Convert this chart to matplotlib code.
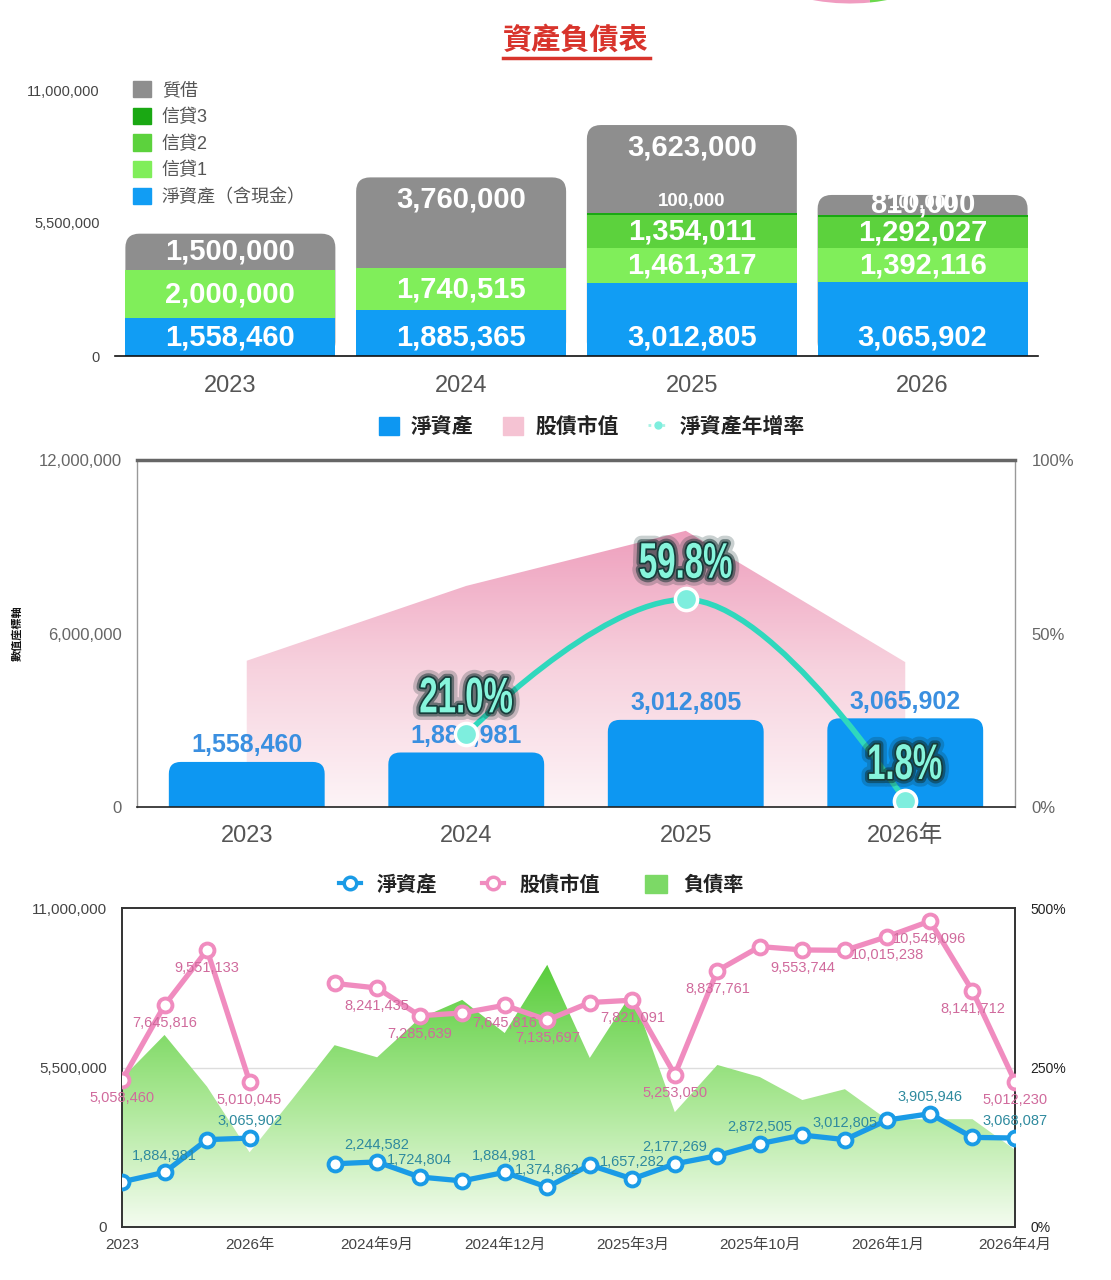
import numpy as np
import matplotlib
matplotlib.use('Agg')
import matplotlib.pyplot as plt
from matplotlib.patches import FancyBboxPatch, Patch, Wedge, PathPatch
from matplotlib.lines import Line2D
from matplotlib.path import Path
from matplotlib.colors import LinearSegmentedColormap
from matplotlib.textpath import TextPath
from matplotlib.font_manager import FontProperties
from matplotlib.transforms import Affine2D
import matplotlib.patheffects as pe

plt.rcParams['font.family'] = ['Liberation Sans', 'Noto Sans CJK TC', 'DejaVu Sans']

# ---------------- data ----------------
title = '資產負債表'
years = ['2023', '2024', '2025', '2026']
net_assets = [1558460, 1885365, 3012805, 3065902]
credit1 = [2000000, 1740515, 1461317, 1392116]
credit2 = [0, 0, 1354011, 1292027]
credit3 = [0, 0, 100000, 100000]
pledge = [1500000, 3760000, 3623000, 810000]
top_yticks = [0, 5500000, 11000000]
top_legend = ['質借', '信貸3', '信貸2', '信貸1', '淨資產（含現金）']

mid_years = ['2023', '2024', '2025', '2026年']
mid_net = [1558460, 1884981, 3012805, 3065902]
mid_market = [5058460, 7645816, 9551133, 5010045]
mid_growth = [np.nan, 21.0, 59.8, 1.8]
mid_yticks = [0, 6000000, 12000000]
mid_rticks = [0, 50, 100]
mid_legend = ['淨資產', '股債市值', '淨資產年增率']
mid_ylabel = '數值座標軸'

bot_xlabels = ['2023', '2026年', '2024年9月', '2024年12月', '2025年3月',
               '2025年10月', '2026年1月', '2026年4月']
bot_xtick_idx = [0, 3, 6, 9, 12, 15, 18, 21]
bot_net = [1558460, 1884981, 3012805, 3065902, np.nan, 2180000, 2244582,
           1724804, 1590000, 1884981, 1374862, 2140000, 1657282, 2177269,
           2460000, 2872505, 3170000, 3012805, 3690000, 3905946, 3090000,
           3068087]
bot_market = [5058460, 7645816, 9551133, 5010045, np.nan, 8400000, 8241435,
              7285639, 7380000, 7645816, 7135697, 7740000, 7821091, 5253050,
              8837761, 9670000, 9553744, 9540000, 10015238, 10549096,
              8141712, 5012230]
bot_debt = [233, 301, 220, 117, 200, 285, 266, 327, 356, 304, 411, 265, 368,
            180, 254, 235, 199, 216, 168, 169, 169, 121]
bot_net_labeled = [1, 3, 6, 7, 9, 10, 12, 13, 15, 17, 19, 21]
bot_market_labeled = [0, 1, 2, 3, 6, 7, 9, 10, 12, 13, 14, 16, 18, 19, 20, 21]
bot_yticks = [0, 5500000, 11000000]
bot_rticks = [0, 250, 500]
bot_legend = ['淨資產', '股債市值', '負債率']

# ---------------- style ----------------
C_BLUE = '#119df4'
C_G1 = '#80ee5a'
C_G2 = '#5cd23d'
C_G3 = '#1aa813'
C_GRAY = '#8e8e8e'
C_RED = '#d8342c'

W, H = 1111, 1280
fig = plt.figure(figsize=(W / 100, H / 100), dpi=100)


def fr(x0, y0, x1, y1):
    return [x0 / W, 1 - y1 / H, (x1 - x0) / W, (y1 - y0) / H]


def fmt(v):
    return f'{int(round(v)):,}'


# ---------------- title ----------------
fig.text(576 / W, 1 - 40 / H, title, ha='center', va='center', fontsize=21,
         fontweight='bold', color=C_RED)
fig.add_artist(Line2D([503 / W, 650 / W], [1 - 58 / H, 1 - 58 / H],
                      transform=fig.transFigure, color=C_RED, lw=2.5))
# partial ring at the very top
fig.add_artist(Wedge((8.5, 14.785), 2.02, 245, 275.7, width=0.25,
                     transform=fig.dpi_scale_trans, color='#f09cc0', lw=0))
fig.add_artist(Wedge((8.5, 14.785), 2.02, 275.7, 292, width=0.25,
                     transform=fig.dpi_scale_trans, color='#6ad84c', lw=0))

# ---------------- top stacked bars ----------------
ax1 = fig.add_axes(fr(115, 90, 1038, 356))
x = np.arange(len(years))
bw = 0.91
ax1.set_xlim(-0.5, 3.5)
ax1.set_ylim(0, 11e6)
px_y1 = 11e6 / 266
rx = 14 / (923 / 4)
ry = 14 * px_y1
totals = np.array(net_assets) + np.array(credit1) + np.array(credit2) + \
    np.array(credit3) + np.array(pledge)
for xi, t in zip(x, totals):
    ax1.add_patch(FancyBboxPatch((xi - bw / 2, 0), bw, t,
                                 boxstyle=f'round,pad=0,rounding_size={rx}',
                                 mutation_aspect=ry / rx, fc=C_GRAY, ec='none',
                                 zorder=1))
bottom = np.zeros(len(years))
for vals, col in [(net_assets, C_BLUE), (credit1, C_G1), (credit2, C_G2),
                  (credit3, C_G3)]:
    ax1.bar(x, vals, bw, bottom=bottom, color=col, zorder=2, linewidth=0)
    bottom = bottom + np.array(vals)

lab_kw = dict(ha='center', va='center', color='white', fontweight='bold',
              fontsize=21, zorder=5)
for i in range(len(years)):
    b0 = 0
    v = net_assets[i]
    ax1.text(x[i], min(v / 2, 18 * px_y1), fmt(v), **lab_kw)
    b0 += v
    for v in (credit1[i], credit2[i]):
        if v > 0:
            ax1.text(x[i], b0 + v / 2, fmt(v), **lab_kw)
        b0 += v
    v = credit3[i]
    if v > 0:
        ax1.text(x[i], b0 + v + 3 * px_y1, fmt(v), ha='center', va='bottom',
                 color='white', fontweight='bold', fontsize=13.5, zorder=6)
    b0 += v
    v = pledge[i]
    top = b0 + v
    ax1.text(x[i], max(b0 + v / 2, top - 22 * px_y1), fmt(v), **lab_kw)

for s in ['top', 'left', 'right']:
    ax1.spines[s].set_visible(False)
ax1.spines['bottom'].set_color('#111')
ax1.spines['bottom'].set_linewidth(1.2)
ax1.set_yticks(top_yticks, [fmt(v) for v in top_yticks])
ax1.set_xticks(x, years)
ax1.tick_params(axis='y', length=0, pad=11, labelsize=10.5, labelcolor='#444')
ax1.tick_params(axis='x', length=0, pad=14, labelsize=17, labelcolor='#555')
h_top = [Patch(color=c) for c in [C_GRAY, C_G3, C_G2, C_G1, C_BLUE]]
ax1.legend(h_top, top_legend, loc='upper left',
           bbox_to_anchor=(133 / W, 1 - 81 / H), bbox_transform=fig.transFigure,
           frameon=False, fontsize=13, labelcolor='#555', handlelength=1.0,
           handleheight=1.0, labelspacing=0.47, handletextpad=0.6,
           borderpad=0, borderaxespad=0)

# ---------------- middle chart ----------------
ax2 = fig.add_axes(fr(137, 460, 1015, 807))
ax2.set_xlim(-0.5, 3.5)
ax2.set_ylim(0, 12e6)
xm = np.arange(len(mid_years))
pink_cmap = LinearSegmentedColormap.from_list('pk', ['#fdf4f7', '#f7d2de', '#ee9fbd'])
poly = ax2.fill_between(xm, mid_market, 0, facecolor='none', edgecolor='none')
grad = np.linspace(0, 1, 256).reshape(-1, 1)
im = ax2.imshow(grad, extent=[-0.5, 3.5, 0, max(mid_market)], origin='lower',
                aspect='auto', cmap=pink_cmap, zorder=1)
im.set_clip_path(poly.get_paths()[0], transform=ax2.transData)
ax2.set_xlim(-0.5, 3.5)
ax2.set_ylim(0, 12e6)

bw2 = 0.71
px_y2 = 12e6 / 347
rx2 = 12 / 219.5
ry2 = 12 * px_y2
for xi, v in zip(xm, mid_net):
    ax2.add_patch(FancyBboxPatch((xi - bw2 / 2, -3 * ry2), bw2, v + 3 * ry2,
                                 boxstyle=f'round,pad=0,rounding_size={rx2}',
                                 mutation_aspect=ry2 / rx2, fc='#0d97f2',
                                 ec='none', zorder=2))
    ax2.annotate(fmt(v), (xi, v), xytext=(0, 12), textcoords='offset points',
                 ha='center', va='center', fontsize=18, fontweight='bold',
                 color='#3a8fe0', zorder=4)

ax2.spines['top'].set_color('#666')
ax2.spines['top'].set_linewidth(2.5)
for s in ['left', 'right']:
    ax2.spines[s].set_color('#999')
    ax2.spines[s].set_linewidth(1)
ax2.spines['bottom'].set_color('#222')
ax2.spines['bottom'].set_linewidth(1.2)
ax2.set_yticks(mid_yticks, [fmt(v) for v in mid_yticks])
ax2.set_xticks(xm, mid_years)
ax2.tick_params(axis='y', length=0, pad=11, labelsize=12, labelcolor='#666')
ax2.tick_params(axis='x', length=0, pad=13, labelsize=17, labelcolor='#555')

ax2b = ax2.twinx()
ax2b.set_ylim(0, 100)
ax2b.set_xlim(-0.5, 3.5)
ax2b.set_yticks(mid_rticks, [f'{v}%' for v in mid_rticks])
ax2b.tick_params(axis='y', length=0, pad=12, labelsize=12, labelcolor='#666')
for s in ax2b.spines.values():
    s.set_visible(False)

# spline (Highcharts-style bezier) through the growth points
gx = [xi for xi, g in zip(xm, mid_growth) if not np.isnan(g)]
gy = [g for g in mid_growth if not np.isnan(g)]
verts = [(gx[0], gy[0])]
codes = [Path.MOVETO]
sm, den = 1.5, 2.5
for k in range(1, len(gx)):
    x0, y0 = gx[k - 1], gy[k - 1]
    x1, y1 = gx[k], gy[k]
    c1 = (x0, y0) if k - 1 == 0 else ((sm * x0 + x1) / den, y0)
    c2 = (x1, y1) if k == len(gx) - 1 else ((sm * x1 + x0) / den, y1)
    verts += [c1, c2, (x1, y1)]
    codes += [Path.CURVE4] * 3
ax2b.add_patch(PathPatch(Path(verts, codes), fc='none', ec='#2fd8bd', lw=4,
                         zorder=3, capstyle='round'))
ax2b.plot(gx, gy, ls='none', marker='o', ms=16, mfc='#7eeede', mec='white',
          mew=2.5, zorder=4)

# condensed, glowing percentage labels
fp = FontProperties(family='Liberation Sans', weight='bold')
glow = [pe.Stroke(linewidth=11, foreground='#0d2b2b', alpha=0.22, joinstyle='round'),
        pe.Stroke(linewidth=6, foreground='#102e2e', alpha=0.5, joinstyle='round'),
        pe.Stroke(linewidth=2.5, foreground='#173c3a', joinstyle='round'),
        pe.Normal()]
for xi, g in zip(gx, gy):
    tp = TextPath((0, 0), f'{g:.1f}%', size=50, prop=fp)
    bb = tp.get_extents()
    cx, cy = (bb.x0 + bb.x1) / 2, (bb.y0 + bb.y1) / 2
    px, py = ax2b.transData.transform((xi, g))
    tr = Affine2D().translate(-cx, -cy).scale(0.66, 1.0).translate(px, py + 39)
    ax2b.add_artist(PathPatch(tp, transform=tr, fc='#86f5dc', ec='none',
                              zorder=6, path_effects=glow, clip_on=False))

fig.text(17 / W, 1 - 633 / H, mid_ylabel, rotation=90, ha='center',
         va='center', fontsize=8, fontweight='bold', color='#111')
h_mid = [Patch(color='#0d97f2'), Patch(color='#f5c3d3'),
         Line2D([0], [0], color='#a8f2e4', lw=2, ls=(0, (1, 1.5)), marker='o',
                ms=5, mfc='#7eeede', mec='#7eeede')]
fig.legend(h_mid, mid_legend, loc='center', bbox_to_anchor=(592 / W, 1 - 427 / H),
           ncol=3, frameon=False, prop={'size': 15, 'weight': 'bold'},
           columnspacing=1.4, handlelength=0.95, handleheight=1.0,
           handletextpad=0.6, labelcolor='#222')

# ---------------- bottom chart ----------------
ax3 = fig.add_axes(fr(122, 908, 1015, 1227))
ax3b = ax3.twinx()
ax3.set_zorder(ax3b.get_zorder() + 1)
ax3.patch.set_visible(False)
xb = np.arange(len(bot_net))

green_cmap = LinearSegmentedColormap.from_list('gr', ['#f4fcf0', '#a6e690', '#55cc38'])
polyg = ax3b.fill_between(xb, bot_debt, 0, facecolor='none', edgecolor='none')
img = ax3b.imshow(grad, extent=[0, len(xb) - 1, 0, 420], origin='lower',
                  aspect='auto', cmap=green_cmap, zorder=1)
img.set_clip_path(polyg.get_paths()[0], transform=ax3b.transData)
ax3b.axhline(250, color='#dddddd', lw=1, zorder=0)
ax3b.set_xlim(0, len(xb) - 1)
ax3b.set_ylim(0, 500)
ax3b.set_yticks(bot_rticks, [f'{v}%' for v in bot_rticks])
ax3b.tick_params(axis='y', length=0, pad=11, labelsize=10, labelcolor='#222')

ax3.set_xlim(0, len(xb) - 1)
ax3.set_ylim(0, 11e6)
ax3.plot(xb, bot_market, color='#f08cbf', lw=3.8, marker='o', ms=10,
         mfc='white', mec='#f08cbf', mew=2.8, zorder=3)
ax3.plot(xb, bot_net, color='#1a9be6', lw=3.8, marker='o', ms=10,
         mfc='white', mec='#1a9be6', mew=2.8, zorder=4)
for i in bot_net_labeled:
    ax3.annotate(fmt(bot_net[i]), (xb[i], bot_net[i]), xytext=(0, 12),
                 textcoords='offset points', ha='center', va='center',
                 fontsize=10.5, color='#2e8a9e', zorder=5)
for i in bot_market_labeled:
    ax3.annotate(fmt(bot_market[i]), (xb[i], bot_market[i]), xytext=(0, -13),
                 textcoords='offset points', ha='center', va='center',
                 fontsize=10.5, color='#d06a9c', zorder=5)
ax3.set_yticks(bot_yticks, [fmt(v) for v in bot_yticks])
ax3.set_xticks(bot_xtick_idx, bot_xlabels)
ax3.tick_params(axis='y', length=0, pad=11, labelsize=11, labelcolor='#444')
ax3.tick_params(axis='x', length=0, pad=8, labelsize=11, labelcolor='#444')
for ax in (ax3, ax3b):
    for s in ax.spines.values():
        s.set_color('#333')
        s.set_linewidth(1.2)

h_bot = [Line2D([0], [0], color='#1a9be6', lw=3, marker='o', ms=9, mfc='white',
                mec='#1a9be6', mew=2.5),
         Line2D([0], [0], color='#f08cbf', lw=3, marker='o', ms=9, mfc='white',
                mec='#f08cbf', mew=2.5),
         Patch(color='#7cd966')]
fig.legend(h_bot, bot_legend, loc='center', bbox_to_anchor=(541 / W, 1 - 885 / H),
           ncol=3, frameon=False, prop={'size': 14.5, 'weight': 'bold'},
           columnspacing=2.2, handlelength=1.1, handleheight=1.0,
           handletextpad=0.8, labelcolor='#222')

fig.savefig('out.png', dpi=100)
